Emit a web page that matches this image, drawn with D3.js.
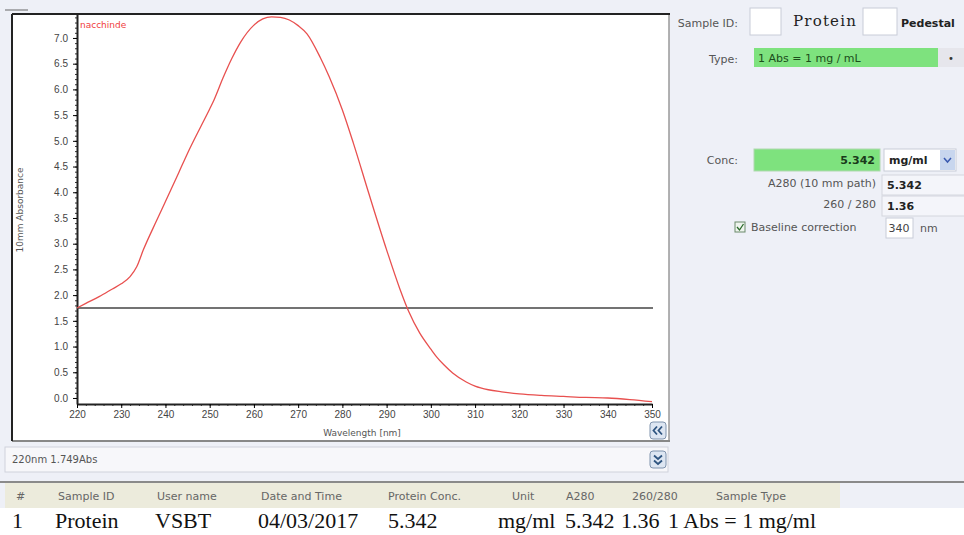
<!DOCTYPE html>
<html>
<head>
<meta charset="utf-8">
<script src="https://cdn.jsdelivr.net/npm/d3@7"></script>
<style>
  body { margin: 0; background: #eef0f7; }
  svg { display: block; font-family: 'DejaVu Sans', sans-serif; }
</style>
</head>
<body>
<div class="div_chart"></div>
<script>
// spectrum (wavelength nm, 10mm absorbance)
const wavelengths = [220, 222, 225, 228, 230, 232, 233.5, 235, 238, 240, 243, 245, 248, 250, 251, 253, 255, 257, 260, 262, 264, 266, 268, 270, 272, 275, 277, 280, 282.5, 286, 290, 293, 295, 297.5, 300, 301.3, 303, 305, 308, 310, 313, 316, 320, 325, 330, 335, 340, 345, 350];
const absorbance = [1.75, 1.84, 1.97, 2.12, 2.22, 2.36, 2.55, 2.88, 3.45, 3.82, 4.38, 4.76, 5.28, 5.62, 5.8, 6.22, 6.6, 6.92, 7.25, 7.37, 7.41, 7.4, 7.35, 7.24, 7.08, 6.62, 6.25, 5.6, 4.95, 3.97, 2.88, 2.12, 1.68, 1.26, 0.95, 0.8, 0.64, 0.48, 0.31, 0.23, 0.16, 0.12, 0.08, 0.05, 0.03, 0.01, 0.0, -0.03, -0.07];
const baselineAbs = 1.749;
const yTicks = [0, 0.5, 1, 1.5, 2, 2.5, 3, 3.5, 4, 4.5, 5, 5.5, 6, 6.5, 7];
const xTicks = [220, 230, 240, 250, 260, 270, 280, 290, 300, 310, 320, 330, 340, 350];
const tableHeaders = ['#', 'Sample ID', 'User name', 'Date and Time', 'Protein Conc.', 'Unit', 'A280', '260/280', 'Sample Type'];
const tableRow = ['1', 'Protein', 'VSBT', '04/03/2017', '5.342', 'mg/ml', '5.342', '1.36', '1 Abs = 1 mg/ml'];

const width = 964;
const height = 535;

const svg = d3.select('.div_chart')
  .append('svg')
  .attr('width', width)
  .attr('height', height);

// chart panel
svg.append('rect').attr('x', 12).attr('y', 14).attr('width', 657).attr('height', 427).attr('fill', '#fff');
svg.append('line').attr('x1', 5).attr('x2', 28).attr('y1', 10).attr('y2', 10).attr('stroke', '#666');
svg.append('line').attr('x1', 669).attr('x2', 669).attr('y1', 14).attr('y2', 441).attr('stroke', '#999').attr('stroke-width', 1.5);
svg.append('line').attr('x1', 12).attr('x2', 670).attr('y1', 441).attr('y2', 441).attr('stroke', '#888').attr('stroke-width', 2);
svg.append('line').attr('x1', 12).attr('x2', 670).attr('y1', 14).attr('y2', 14).attr('stroke', '#222').attr('stroke-width', 2);
svg.append('line').attr('x1', 12).attr('x2', 12).attr('y1', 14).attr('y2', 441).attr('stroke', '#222').attr('stroke-width', 2);

const x = d3.scaleLinear().domain([220, 350]).range([77, 652]);
const y = d3.scaleLinear().domain([-0.117, 7.466]).range([404, 14]);

const plot = svg.append('g');

// minor ticks
plot.append('g')
  .attr('transform', 'translate(0,404)')
  .call(d3.axisBottom(x).tickValues(d3.range(220, 351, 2)).tickSize(2).tickFormat(''))
  .call(g => g.select('.domain').remove())
  .selectAll('line').attr('stroke', '#333');
plot.append('g')
  .attr('transform', 'translate(77,0)')
  .call(d3.axisLeft(y).tickValues(d3.range(0, 7.45, 0.1)).tickSize(2).tickFormat(''))
  .call(g => g.select('.domain').remove())
  .selectAll('line').attr('stroke', '#333');

const xAxis = plot.append('g')
  .attr('transform', 'translate(0,404)')
  .call(d3.axisBottom(x).tickValues(xTicks).tickSize(4).tickSizeOuter(0).tickPadding(3));
xAxis.select('.domain').attr('stroke', '#222').attr('stroke-width', 2);
xAxis.selectAll('text').attr('font-size', 10).attr('fill', '#444').attr('font-family', 'Liberation Sans, sans-serif');

const yAxis = plot.append('g')
  .attr('transform', 'translate(77,0)')
  .call(d3.axisLeft(y).tickValues(yTicks).tickSize(4).tickSizeOuter(0).tickPadding(5).tickFormat(d3.format('.1f')));
yAxis.select('.domain').attr('stroke', '#222').attr('stroke-width', 2);
yAxis.selectAll('text').attr('font-size', 10).attr('fill', '#444').attr('font-family', 'Liberation Sans, sans-serif');

// baseline
plot.append('line')
  .attr('x1', x(220)).attr('x2', x(350) + 1)
  .attr('y1', y(baselineAbs)).attr('y2', y(baselineAbs))
  .attr('stroke', '#444').attr('stroke-width', 1.5);

// spectrum
const spectrum = wavelengths.map((w, i) => ({ w, a: absorbance[i] }));
plot.append('path')
  .datum(spectrum)
  .attr('fill', 'none')
  .attr('stroke', '#e8504f')
  .attr('stroke-width', 1.3)
  .attr('d', d3.line().x(d => x(d.w)).y(d => y(d.a)).curve(d3.curveMonotoneX));

plot.append('text').attr('x', 80).attr('y', 28).attr('font-size', 9).attr('fill', '#f04040').text('nacchinde');
plot.append('text')
  .attr('transform', 'translate(23,210) rotate(-90)')
  .attr('text-anchor', 'middle').attr('font-size', 9).attr('fill', '#555')
  .text('10mm Absorbance');
plot.append('text').attr('x', 362).attr('y', 436).attr('text-anchor', 'middle').attr('font-size', 9).attr('fill', '#555').text('Wavelength [nm]');

// small double-chevron buttons
const button = (bx, by, rot) => {
  const g = svg.append('g').attr('transform', `translate(${bx},${by})`);
  g.append('rect').attr('width', 16).attr('height', 17).attr('rx', 3)
    .attr('fill', '#dde6f2').attr('stroke', '#7f93ad');
  g.append('path')
    .attr('transform', `rotate(${rot},8,8.5)`)
    .attr('d', 'M7,4.5 L3.5,8.5 L7,12.5 M12,4.5 L8.5,8.5 L12,12.5')
    .attr('fill', 'none').attr('stroke', '#2f5580').attr('stroke-width', 1.8);
};
button(650, 422, 0);

// status bar
svg.append('rect').attr('x', 5).attr('y', 447).attr('width', 663).attr('height', 25)
  .attr('fill', '#f7f7fa').attr('stroke', '#cfd2dc');
svg.append('text').attr('x', 12).attr('y', 463).attr('font-size', 10).attr('fill', '#555').text('220nm 1.749Abs');
button(650, 451, -90);

// table
svg.append('rect').attr('x', 0).attr('y', 508).attr('width', width).attr('height', 27).attr('fill', '#fff');
svg.append('rect').attr('x', 5).attr('y', 482).attr('width', 835).attr('height', 26).attr('fill', '#ecebdc');
svg.append('line').attr('x1', 0).attr('x2', width).attr('y1', 482).attr('y2', 482).attr('stroke', '#8a8a8a').attr('stroke-width', 2);
const headerX = [16, 58, 157, 261, 388, 512, 566, 632, 716];
svg.selectAll('.hdr').data(tableHeaders).join('text')
  .attr('x', (d, i) => headerX[i]).attr('y', 500)
  .attr('font-size', 11).attr('fill', '#666').text(d => d);
const rowX = [12, 55, 155, 258, 388, 498, 565, 621, 668];
svg.selectAll('.row').data(tableRow).join('text')
  .attr('x', (d, i) => rowX[i]).attr('y', 528)
  .attr('font-family', 'Liberation Serif, serif').attr('font-size', 22).attr('fill', '#111')
  .text(d => d);

// right panel
const label = (lx, ly, t, anchor = 'start') => svg.append('text').attr('x', lx).attr('y', ly)
  .attr('text-anchor', anchor).attr('font-size', 11).attr('fill', '#555').text(t);
const box = (bx, by, bw, bh, fill, stroke = '#c8ccd8') => svg.append('rect')
  .attr('x', bx).attr('y', by).attr('width', bw).attr('height', bh).attr('fill', fill).attr('stroke', stroke);

label(738, 27, 'Sample ID:', 'end');
box(750, 8, 31, 27, '#fff');
box(863, 8, 34, 27, '#fff');
svg.append('text').attr('x', 793).attr('y', 26).attr('font-family', 'DejaVu Serif, serif')
  .attr('font-size', 15).attr('letter-spacing', 1.2).attr('fill', '#222').text('Protein');
svg.append('text').attr('x', 901).attr('y', 27).attr('font-size', 11).attr('font-weight', 'bold').attr('fill', '#222').text('Pedestal');

label(738, 63, 'Type:', 'end');
box(754, 48, 184, 19, '#7ee27e', 'none');
svg.append('text').attr('x', 758).attr('y', 62).attr('font-size', 11).attr('fill', '#1b4d1b').text('1 Abs = 1 mg / mL');
box(938, 48, 26, 19, '#e6e6ec', 'none');
svg.append('text').attr('x', 951).attr('y', 62).attr('text-anchor', 'middle').attr('font-size', 10).attr('fill', '#333').text('•');

label(738, 164, 'Conc:', 'end');
box(754, 149, 126, 22, '#7ee27e', '#b0d8b0');
svg.append('text').attr('x', 875).attr('y', 164).attr('text-anchor', 'end').attr('font-size', 11)
  .attr('font-weight', 'bold').attr('fill', '#1a3a1a').text('5.342');
box(884, 149, 72, 22, '#fff');
box(940, 150, 15, 20, '#c8d6ee', 'none');
svg.append('text').attr('x', 889).attr('y', 164).attr('font-size', 11).attr('font-weight', 'bold').attr('fill', '#222').text('mg/ml');
svg.append('path').attr('d', 'M944,158 L947.5,162 L951,158').attr('fill', 'none').attr('stroke', '#3a5ab0').attr('stroke-width', 1.5);

label(876, 187, 'A280 (10 mm path)', 'end');
box(882, 175, 90, 20, '#f4f5fa', '#d4d6de');
svg.append('text').attr('x', 887).attr('y', 189).attr('font-size', 11).attr('font-weight', 'bold').attr('fill', '#222').text('5.342');

label(876, 208, '260 / 280', 'end');
box(882, 196, 90, 20, '#f4f5fa', '#d4d6de');
svg.append('text').attr('x', 887).attr('y', 210).attr('font-size', 11).attr('font-weight', 'bold').attr('fill', '#222').text('1.36');

box(735, 222, 10, 10, '#eef4ee', '#6a8a6a');
svg.append('path').attr('d', 'M737,227 L739.5,230 L743.5,224').attr('fill', 'none').attr('stroke', '#2a6a2a').attr('stroke-width', 1.3);
label(751, 231, 'Baseline correction');
box(886, 218, 27, 20, '#fff');
svg.append('text').attr('x', 899).attr('y', 232).attr('text-anchor', 'middle').attr('font-size', 11).attr('fill', '#444').text('340');
label(920, 232, 'nm');
</script>
</body>
</html>
